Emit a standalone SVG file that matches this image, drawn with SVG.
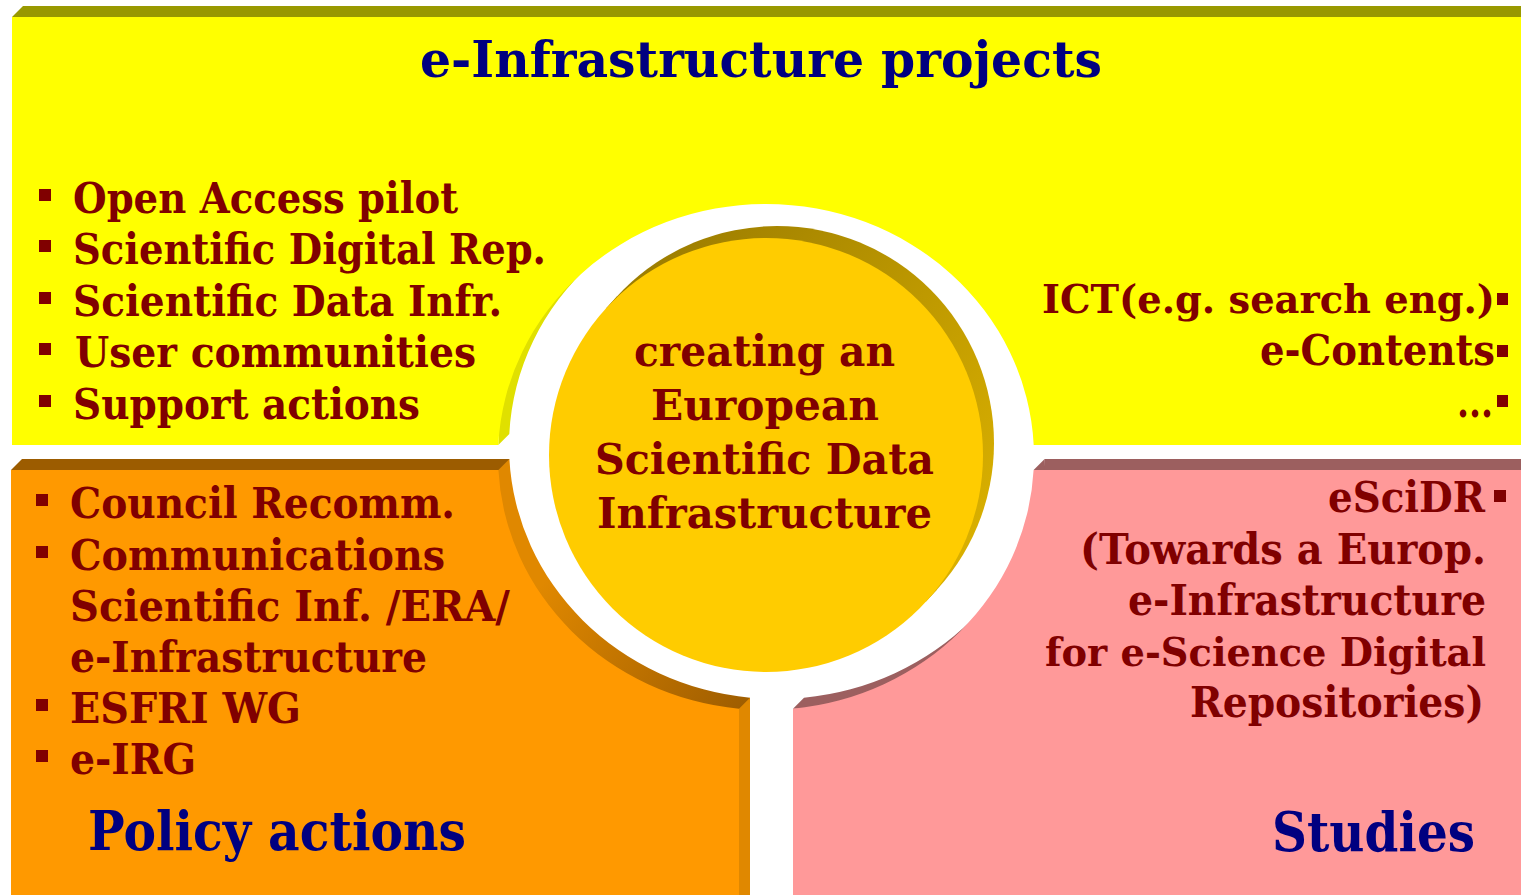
<svg xmlns="http://www.w3.org/2000/svg" width="1521" height="895" viewBox="0 0 1521 895">
<defs>
<style>
text{font-family:"DejaVu Serif","Liberation Serif",serif;font-weight:bold}
.b{fill:#800000;font-size:43px}
.s{font-size:38.5px}
.h{fill:#000080;font-size:50px}
.e{text-anchor:end}
.bul{fill:#800000}
</style>
<linearGradient id="og" gradientUnits="userSpaceOnUse" x1="560" y1="560" x2="745" y2="700">
<stop offset="0" stop-color="#e08800"/><stop offset="1" stop-color="#a05e00"/>
</linearGradient>
<linearGradient id="gg" gradientUnits="userSpaceOnUse" x1="620" y1="260" x2="990" y2="560">
<stop offset="0" stop-color="#9a7b00"/><stop offset="1" stop-color="#dcb200"/>
</linearGradient>
</defs>
<rect width="1521" height="895" fill="#ffffff"/>

<g id="panel-yellow">
<path d="M23,6 H1532 V434 H1044.7 A268,253 0 0 0 509.3,434 H23 Z" fill="#e0e000"/>
<polygon points="498.3,445 509.3,434 499,434" fill="#e0e000"/>
<polygon points="12,17 23,6 1521,6 1521,17" fill="#999900"/>
<path d="M12,17 H1521 V445 H1033.7 A268,253 0 0 0 498.3,445 H12 Z" fill="#ffff00"/>
<text class="h" x="420" y="77" textLength="682" lengthAdjust="spacingAndGlyphs">e-Infrastructure projects</text>
<rect class="bul" x="39" y="189" width="12" height="12"/>
<rect class="bul" x="39" y="240" width="12" height="12"/>
<rect class="bul" x="39" y="292" width="12" height="12"/>
<rect class="bul" x="39" y="343" width="12" height="12"/>
<rect class="bul" x="39" y="395" width="12" height="12"/>
<text class="b" x="73" y="213" textLength="385" lengthAdjust="spacingAndGlyphs">Open Access pilot</text>
<text class="b" x="73" y="264" textLength="473" lengthAdjust="spacingAndGlyphs">Scientific Digital Rep.</text>
<text class="b" x="73" y="316" textLength="429" lengthAdjust="spacingAndGlyphs">Scientific Data Infr.</text>
<text class="b" x="75" y="367" textLength="401" lengthAdjust="spacingAndGlyphs">User communities</text>
<text class="b" x="73" y="419" textLength="347" lengthAdjust="spacingAndGlyphs">Support actions</text>
<text class="b s" x="1042" y="313" textLength="453" lengthAdjust="spacingAndGlyphs">ICT(e.g. search eng.)</text>
<text class="b e" x="1495" y="365" textLength="235" lengthAdjust="spacingAndGlyphs">e-Contents</text>
<text class="b e" x="1493" y="417" textLength="36" lengthAdjust="spacingAndGlyphs">...</text>
<rect class="bul" x="1497" y="293" width="11" height="12"/>
<rect class="bul" x="1497" y="345" width="11" height="12"/>
<rect class="bul" x="1497" y="395" width="11" height="12"/>
</g>

<g id="panel-orange">
<path d="M22,459 H509.4 A268,253 0 0 0 750,697.7 V895 H22 Z" fill="url(#og)"/>
<polygon points="11,470 22,459 509.4,459 498.4,470" fill="#9c5c00"/>
<polygon points="739,708.7 750,697.7 750,895 739,895" fill="#e08800"/>
<path d="M11,470 H498.4 A268,253 0 0 0 739,708.7 V895 H11 Z" fill="#ff9900"/>
<rect class="bul" x="36" y="494" width="12" height="12"/>
<rect class="bul" x="36" y="546" width="12" height="12"/>
<rect class="bul" x="36" y="699" width="12" height="12"/>
<rect class="bul" x="36" y="750" width="12" height="12"/>
<text class="b" x="70" y="518" textLength="385" lengthAdjust="spacingAndGlyphs">Council Recomm.</text>
<text class="b" x="70" y="570" textLength="375" lengthAdjust="spacingAndGlyphs">Communications</text>
<text class="b" x="70" y="621" textLength="440" lengthAdjust="spacingAndGlyphs">Scientific Inf. /ERA/</text>
<text class="b" x="70" y="672" textLength="357" lengthAdjust="spacingAndGlyphs">e-Infrastructure</text>
<text class="b" x="70" y="723" textLength="231" lengthAdjust="spacingAndGlyphs">ESFRI WG</text>
<text class="b" x="70" y="774" textLength="126" lengthAdjust="spacingAndGlyphs">e-IRG</text>
<text class="h" x="88" y="850" textLength="378" lengthAdjust="spacingAndGlyphs" style="font-size:55px">Policy actions</text>
</g>

<g id="panel-pink">
<path d="M1044.6,459 H1521 V895 H804 V697.7 A268,253 0 0 0 1044.6,459 Z" fill="#9c5f5f"/>
<polygon points="1033.6,470 1044.6,459 1044.6,470" fill="#9c5f5f"/>
<polygon points="793,708.7 804,697.7 804,708.7" fill="#9c5f5f"/>
<path d="M1033.6,470 H1521 V895 H793 V708.7 A268,253 0 0 0 1033.6,470 Z" fill="#ff9999"/>
<text class="b e" x="1485" y="512" textLength="157" lengthAdjust="spacingAndGlyphs">eSciDR</text>
<rect class="bul" x="1494" y="490" width="12" height="12"/>
<text class="b e" x="1486" y="564" textLength="406" lengthAdjust="spacingAndGlyphs">(Towards a Europ.</text>
<text class="b e" x="1486" y="615" textLength="358" lengthAdjust="spacingAndGlyphs">e-Infrastructure</text>
<text class="b s" x="1045" y="666" textLength="441" lengthAdjust="spacingAndGlyphs">for e-Science Digital</text>
<text class="b e" x="1484" y="717" textLength="294" lengthAdjust="spacingAndGlyphs">Repositories)</text>
<text class="h e" x="1475" y="851" textLength="203" lengthAdjust="spacingAndGlyphs" style="font-size:55px">Studies</text>
</g>

<g id="center-circle">
<circle cx="777" cy="443" r="217" fill="url(#gg)"/>
<polygon points="606.1,308.3 617.1,296.3 936.9,589.7 925.9,601.7" fill="url(#gg)"/>
<circle cx="766" cy="455" r="217" fill="#ffcc00"/>
<text class="b" x="634" y="366" textLength="261" lengthAdjust="spacingAndGlyphs">creating an</text>
<text class="b" x="651" y="420" textLength="228" lengthAdjust="spacingAndGlyphs">European</text>
<text class="b" x="595" y="474" textLength="339" lengthAdjust="spacingAndGlyphs">Scientific Data</text>
<text class="b" x="597" y="528" textLength="335" lengthAdjust="spacingAndGlyphs">Infrastructure</text>
</g>

<g id="connectors"/>
</svg>
